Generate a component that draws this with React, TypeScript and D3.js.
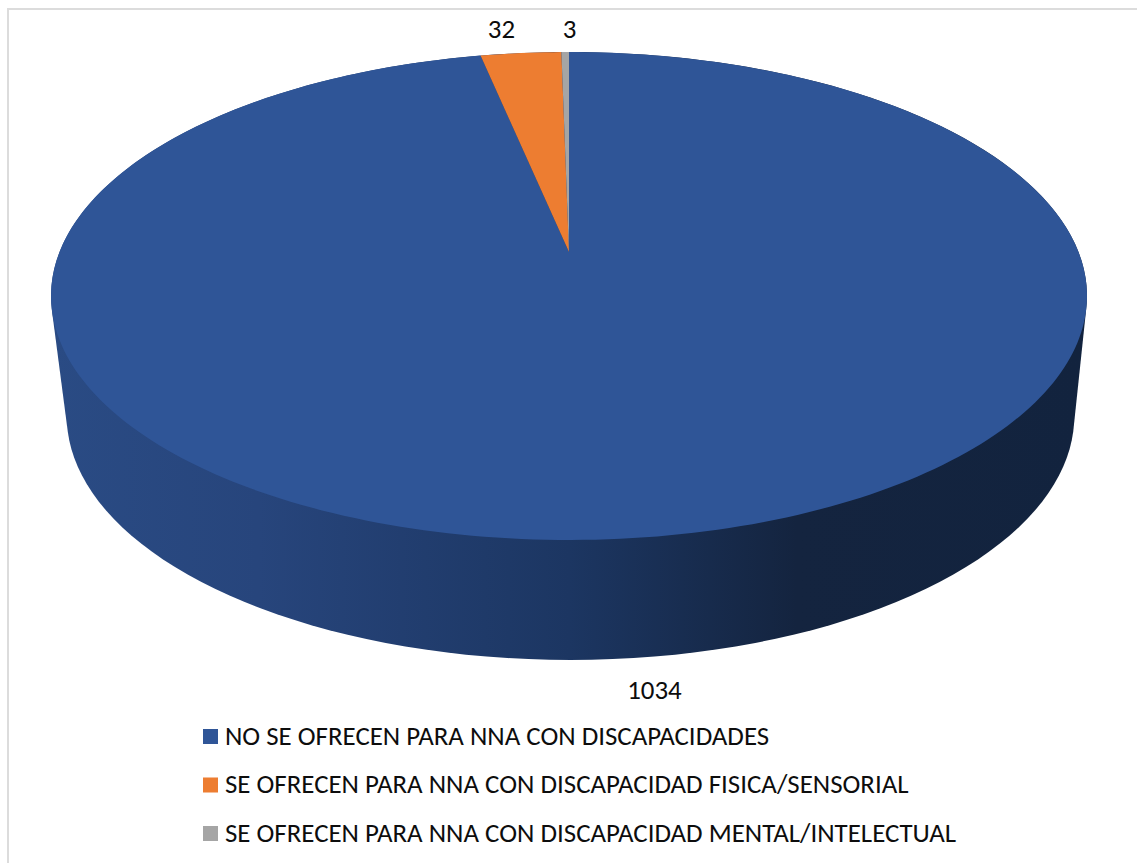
import React from "react";
import * as d3 from "d3";

const categories = [
  "NO SE OFRECEN PARA NNA CON DISCAPACIDADES",
  "SE OFRECEN PARA NNA CON DISCAPACIDAD FISICA/SENSORIAL",
  "SE OFRECEN PARA NNA CON DISCAPACIDAD MENTAL/INTELECTUAL",
];
const values = [1034, 32, 3];
const colors = ["#2f5597", "#ed7d31", "#a5a5a5"];
const sideStops: [number, string][] = [
  [0, "#2a4b84"],
  [0.2, "#27457c"],
  [0.5, "#1c3662"],
  [0.72, "#14243f"],
  [1, "#12233e"],
];

const W = 1137;
const H = 863;
const cx = 569;
const persp = 0.1803;
const focal = 509.5;

// perspective projection of a unit disc; t = 0 is the top face, t = 1 the lower rim
const project = (angle: number, r: number, t: number): [number, number] => {
  const u = r * Math.sin(angle);
  const v = r * Math.cos(angle);
  const w = 1 + persp * v;
  const x = cx + 1.5 * t + ((focal - 14 * t) * u) / w;
  const y = (252 - 190.6 * v) / w;
  return [x, y + t * 120];
};

const arcs = d3.pie<number>().sort(null)(values);
const steps = d3.range(0, 361, 2).map((d) => (d * Math.PI) / 180);
const hull = d3.polygonHull(
  steps.flatMap((a) => [project(a, 1, 0), project(a, 1, 1)])
) as [number, number][];
const hullPath = d3.line()(hull) + "Z";

const slicePath = (start: number, end: number) => {
  const n = Math.max(2, Math.ceil((end - start) / 0.02));
  const pts = d3.range(n + 1).map((i) => project(start + ((end - start) * i) / n, 1, 0));
  return d3.line()([project(0, 0, 0), ...pts]) + "Z";
};

const legendY = d3.scalePoint<string>().domain(categories).range([736.5, 833.5]);

const font = "Carlito, Calibri, Lato, 'Open Sans', sans-serif";

export default function App() {
  return (
    <svg
      width={W}
      height={H}
      viewBox={`0 0 ${W} ${H}`}
      style={{ position: "absolute", left: 0, top: 0, display: "block", background: "#fff" }}
    >
      <defs>
        <linearGradient id="side" gradientUnits="userSpaceOnUse" x1={51} x2={1087} y1={0} y2={0}>
          {sideStops.map(([o, c]) => (
            <stop key={o} offset={o} stopColor={c} />
          ))}
        </linearGradient>
      </defs>
      <path d={`M8 ${H}V9H${W}`} fill="none" stroke="#dcdcdc" strokeWidth={2} />
      <path d={hullPath} fill="url(#side)" />
      {arcs.map((a, i) => (
        <path key={i} d={slicePath(a.startAngle, a.endAngle)} fill={colors[i]} />
      ))}
      <g fontFamily={font} fontSize={26.9} fill="#0d0d0d" textAnchor="middle">
        <text x={654.5} y={699}>{values[0]}</text>
        <text x={501.5} y={38}>{values[1]}</text>
        <text x={569.5} y={38}>{values[2]}</text>
      </g>
      {categories.map((c, i) => {
        const y = legendY(c) as number;
        return (
          <g key={c}>
            <rect x={203} y={y - 7.5} width={15} height={15} fill={colors[i]} />
            <text x={225} y={y + 8} fontFamily={font} fontSize={26.9} fill="#0d0d0d">{c}</text>
          </g>
        );
      })}
    </svg>
  );
}
